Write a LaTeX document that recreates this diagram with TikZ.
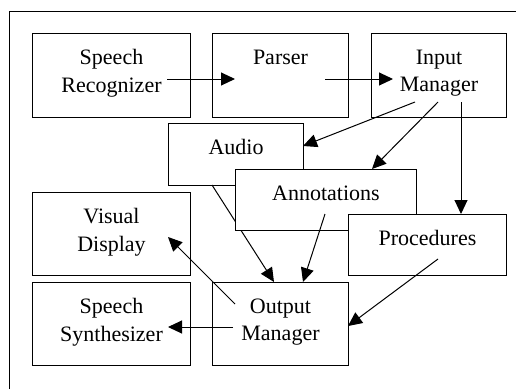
\documentclass[tikz,border=0pt]{standalone}
\usepackage{fontspec}
\setmainfont{Liberation Serif}
\usetikzlibrary{arrows.meta}
\begin{document}
\begin{tikzpicture}[x=1pt,y=-1pt,
  box/.style={draw, line width=1pt, fill=white, rectangle, inner sep=0pt, anchor=north west},
  lbl/.style={anchor=north, inner sep=0pt, align=center, font=\fontsize{22}{27.5}\selectfont},
  arr/.style={line width=1pt, -{Triangle[length=14pt,width=13pt]}}]
\useasboundingbox (0,0) rectangle (516,389);
\draw[line width=1pt] (9,389) -- (9,11) -- (516,11);
% boxes
\node[box, minimum width=158pt, minimum height=84pt] (sr) at (32,33) {};
\node[lbl] (srt) at ([yshift=-16.5pt]sr.north) {Speech\\Recognizer};
\node[box, minimum width=136pt, minimum height=84pt] (par) at (212,33) {};
\node[lbl] (part) at ([yshift=-16.5pt]par.north) {Parser};
\node[box, minimum width=135pt, minimum height=84pt] (im) at (371,33) {};
\node[lbl] (imt) at ([yshift=-16.5pt]im.north) {Input\\Manager};
\node[box, minimum width=158pt, minimum height=83pt] (vd) at (32,192) {};
\node[lbl] (vdt) at ([yshift=-16.5pt]vd.north) {Visual\\Display};
\node[box, minimum width=158pt, minimum height=83pt] (ss) at (32,282) {};
\node[lbl] (sst) at ([yshift=-16.5pt]ss.north) {Speech\\Synthesizer};
\node[box, minimum width=136pt, minimum height=83pt] (om) at (212,282) {};
\node[lbl] (omt) at ([yshift=-16.5pt]om.north) {Output\\Manager};
\node[box, minimum width=135pt, minimum height=62pt] (au) at (168,123) {};
\node[lbl] (aut) at ([yshift=-16.5pt]au.north) {Audio};
\draw[arr] ([shift={(44,62)}]au.north west) -- ([shift={(62,0)}]om.north west);
\node[box, minimum width=181pt, minimum height=61pt] (an) at (235,169) {};
\node[lbl] (ant) at ([yshift=-16.5pt]an.north) {Annotations};
\node[box, minimum width=158pt, minimum height=61pt] (pr) at (348,214) {};
\node[lbl] (prt) at ([yshift=-16.5pt]pr.north) {Procedures};
% connectors
\draw[arr] ([shift={(135,46)}]sr.north west) -- ([shift={(23,46)}]par.north west);
\draw[arr] ([shift={(113,46)}]par.north west) -- ([shift={(22,46)}]im.north west);
\draw[arr] ([shift={(44,69)}]im.north west) -- ([shift={(135,23)}]au.north west);
\draw[arr] ([shift={(67,69)}]im.north west) -- ([shift={(137,0)}]an.north west);
\draw[arr] ([shift={(90,69)}]im.north west) -- ([shift={(113,0)}]pr.north west);
\draw[arr] ([shift={(90,45)}]an.north west) -- ([shift={(91,0)}]om.north west);
\draw[arr] ([shift={(90,45)}]pr.north west) -- ([shift={(136,44)}]om.north west);
\draw[arr] ([shift={(23,22)}]om.north west) -- ([shift={(136,45)}]vd.north west);
\draw[arr] ([shift={(21,45)}]om.north west) -- ([shift={(136,45)}]ss.north west);
\end{tikzpicture}
\end{document}
